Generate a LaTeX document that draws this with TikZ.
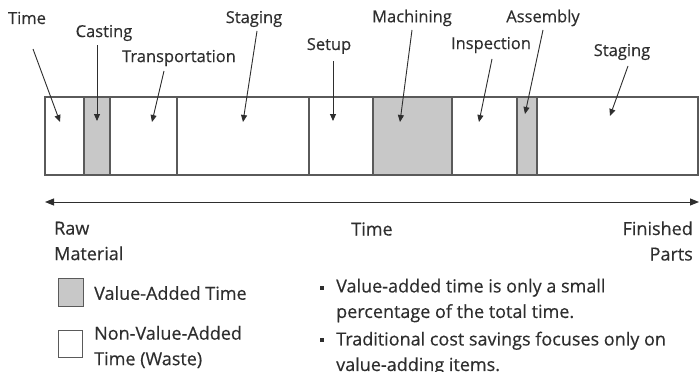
\documentclass[tikz,border=0pt]{standalone}
\usepackage{fontspec}
\setmainfont{Open Sans}
\newfontfamily\diafont{Open Sans}[FakeBold=0.35]
\usetikzlibrary{arrows.meta}
\definecolor{ink}{HTML}{2E2E2E}
\definecolor{boxline}{HTML}{5A5A5A}
\definecolor{va}{HTML}{C8C8C8}
\begin{document}
\begin{tikzpicture}[x=1pt,y=-1pt,
  lbl/.style={font=\diafont\fontsize{16.5}{19}\selectfont, text=ink, inner sep=2pt},
  big/.style={font=\diafont\fontsize{18}{21}\selectfont, text=ink, inner sep=0pt},
  twoline/.style={font=\diafont\fontsize{18}{25.5}\selectfont, text=ink, inner sep=0pt},
  pointer/.style={-{Triangle[length=7pt,width=6pt]}, line width=0.9pt, draw=ink},
  seg/.style={draw=boxline, line width=1.3pt},
  legendbox/.style={draw=boxline, line width=1pt, minimum width=25pt, minimum height=28pt, inner sep=0pt},
  bulletsq/.style={fill=ink, minimum size=4.5pt, inner sep=0pt},
]
\useasboundingbox (0,0) rectangle (699,372);
\fill[white] (0,0) rectangle (699,372);

% bar
\draw[seg] (45,97) rectangle (698,175);
\filldraw[seg, fill=va] (84,97) rectangle (110,175);
\draw[seg] (177,97) -- (177,175);
\draw[seg] (309,97) -- (309,175);
\filldraw[seg, fill=va] (373,97) rectangle (452,175);
\filldraw[seg, fill=va] (517,97) rectangle (537,175);

% labels
\node[lbl] (lTime) at (27,18) {Time};
\node[lbl] (lCast) at (104,33) {Casting};
\node[lbl] (lTrans) at (179,58) {Transportation};
\node[lbl] (lStag1) at (254,19) {Staging};
\node[lbl] (lSetup) at (329,46) {Setup};
\node[lbl] (lMach) at (412,18) {Machining};
\node[lbl] (lInsp) at (491,45) {Inspection};
\node[lbl] (lAsm) at (543,18) {Assembly};
\node[lbl] (lStag2) at (622,52) {Staging};

% tips
\coordinate (tTime) at (60,122);
\coordinate (tCast) at (97,121);
\coordinate (tTrans) at (152,122);
\coordinate (tStag1) at (243,122);
\coordinate (tSetup) at (333,121);
\coordinate (tMach) at (400,122);
\coordinate (tInsp) at (479,122);
\coordinate (tAsm) at (525,114);
\coordinate (tStag2) at (610,116);

\draw[pointer] (33,49) -- (tTime);
\draw[pointer] (97,45) -- (tCast);
\draw[pointer] (164,71) -- (tTrans);
\draw[pointer] (257,31) -- (tStag1);
\draw[pointer] (333,61) -- (tSetup);
\draw[pointer] (412,30) -- (tMach);
\draw[pointer] (492,59) -- (tInsp);
\draw[pointer] (543,30) -- (tAsm);
\draw[pointer] (628,66) -- (tStag2);

% time axis
\coordinate (axL) at (45,202);
\coordinate (axR) at (699,202);
\draw[{Triangle[length=9pt,width=7pt]}-{Triangle[length=9pt,width=7pt]}, line width=1pt, draw=ink] (axL) -- (axR);

\node[twoline, align=left, anchor=west] (raw) at (54,241) {Raw\\Material};
\node[big] (axTime) at (372,229) {Time};
\node[twoline, align=right, anchor=east] (fin) at (693,241) {Finished\\Parts};

% legend
\node[legendbox, fill=va] (vabox) at (71,292) {};
\node[big, anchor=west] (vatext) at (94,293) {Value-Added Time};
\node[legendbox, fill=white, minimum width=24pt, minimum height=27pt] (nvabox) at (70,344) {};
\node[twoline, align=left, anchor=west] (nvatext) at (94,347) {Non-Value-Added\\Time (Waste)};

% bullets
\node[bulletsq] (b1) at (322,288) {};
\node[twoline, align=left, anchor=west] (t1) at (336,300.5) {Value-added time is only a small\\percentage of the total time.};
\node[bulletsq] (b2) at (322,340) {};
\node[twoline, align=left, anchor=west] (t2) at (336,353.5) {Traditional cost savings focuses only on\\value-adding items.};
\end{tikzpicture}
\end{document}
